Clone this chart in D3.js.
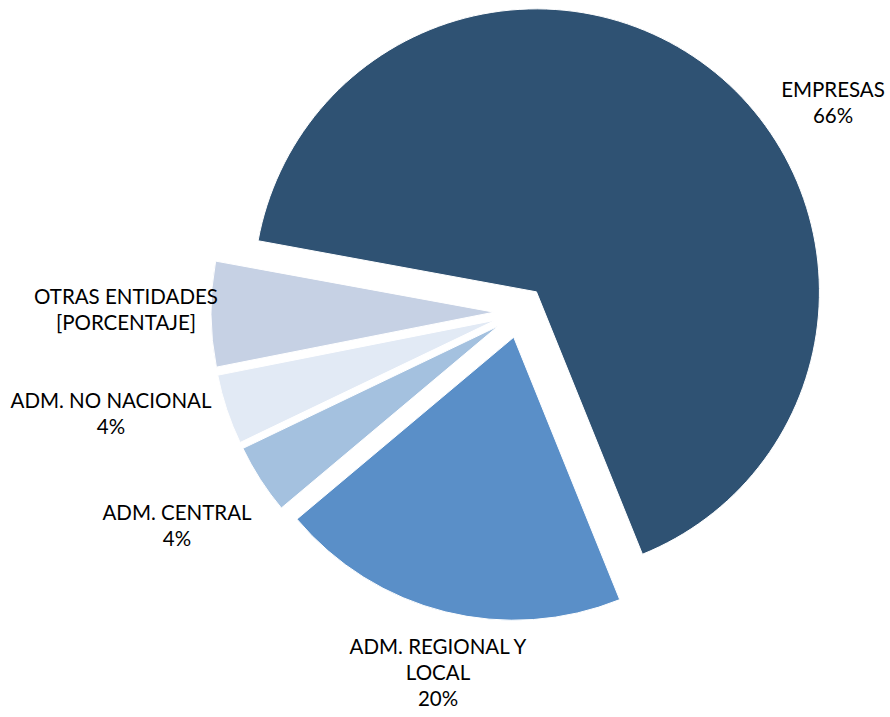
<!DOCTYPE html>
<html>
<head>
<meta charset="utf-8">
<script src="https://cdn.jsdelivr.net/npm/d3@7"></script>
<style>
  html, body { margin: 0; padding: 0; background: #fff; }
  svg { display: block; }
  text { font-family: Lato, "Open Sans", sans-serif; fill: #000; }
</style>
</head>
<body>
<svg id="chart" width="890" height="717"></svg>
<script>
// ---- data ----
const categories = ["ADM. REGIONAL Y LOCAL", "ADM. CENTRAL", "ADM. NO NACIONAL", "OTRAS ENTIDADES", "EMPRESAS"];
const values = [20, 4, 4, 6, 66];
const valueLabels = ["20%", "4%", "4%", "[PORCENTAJE]", "66%"];
const labelLines = [
  ["ADM. REGIONAL Y", "LOCAL", "20%"],
  ["ADM. CENTRAL", "4%"],
  ["ADM. NO NACIONAL", "4%"],
  ["OTRAS ENTIDADES", "[PORCENTAJE]"],
  ["EMPRESAS", "66%"]
];
const colors = ["#5A8FC8", "#A4C1DF", "#E2EAF5", "#C6D1E4", "#2F5273"];

// ---- layout ----
const svg = d3.select("#chart");
const cx = 520, cy = 312, radius = 283, explode = 26;
const startDeg = 158;
const labelPos = [[438, 654], [177, 520], [111, 408], [126, 304], [833, 97]];
const lineH = 26;

const pie = d3.pie().sort(null).value(d => d)
  .startAngle(startDeg * Math.PI / 180)
  .endAngle(startDeg * Math.PI / 180 + 2 * Math.PI);
const arcs = pie(values);
const arc = d3.arc().innerRadius(0).outerRadius(radius);

const g = svg.append("g").attr("transform", `translate(${cx},${cy})`);

g.selectAll("path.slice").data(arcs).enter().append("path")
  .attr("class", "slice")
  .attr("d", arc)
  .attr("fill", (d, i) => colors[i])
  .attr("stroke", "#fff")
  .attr("stroke-width", 1)
  .attr("transform", d => {
    const a = (d.startAngle + d.endAngle) / 2;
    return `translate(${explode * Math.sin(a)},${-explode * Math.cos(a)})`;
  });

const labels = svg.selectAll("text.lbl").data(labelLines).enter().append("text")
  .attr("class", "lbl")
  .attr("text-anchor", "middle")
  .attr("font-size", 20.5)
  .attr("x", (d, i) => labelPos[i][0])
  .attr("y", (d, i) => labelPos[i][1]);
labels.each(function(lines, i) {
  d3.select(this).selectAll("tspan").data(lines).enter().append("tspan")
    .attr("x", labelPos[i][0])
    .attr("dy", (l, j) => j === 0 ? 0 : lineH)
    .text(l => l);
});
</script>
</body>
</html>
